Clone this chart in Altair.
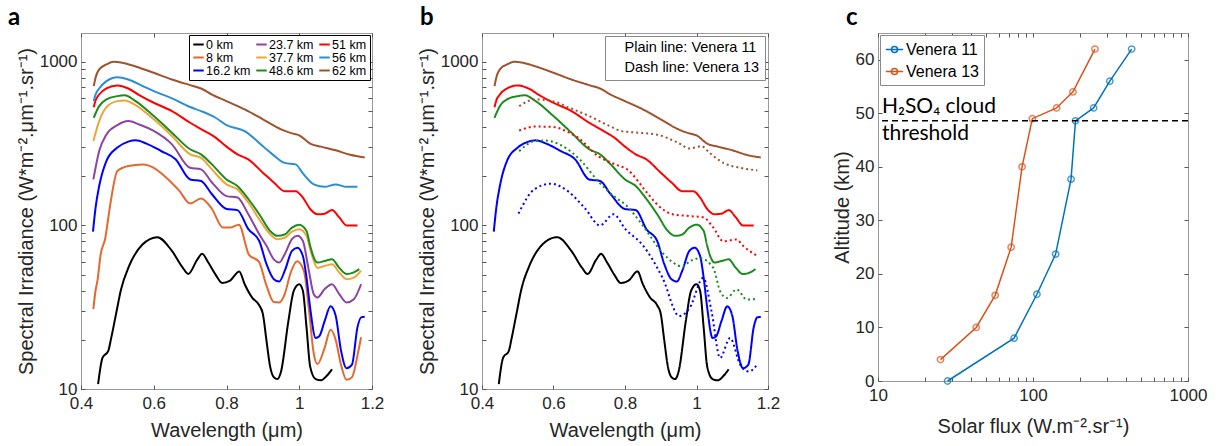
import altair as alt
import pandas as pd

# ---------------- categories / styles ----------------
ALT_LABELS = ["0 km", "8 km", "16.2 km", "23.7 km", "37.7 km", "48.6 km", "51 km", "56 km", "62 km"]
ALT_COLORS = ["#000000", "#E2692F", "#0000FF", "#8B44A0", "#EDA53A", "#1E8B1E", "#FF0000", "#2B8ED4", "#A0522D"]
MISSIONS_B = ["Plain line: Venera 11", "Dash line: Venera 13"]
MISSIONS_C = ["Venera 11", "Venera 13"]

# ---------------- panel a/b : Venera 11 spectra ----------------
wl_0 = [0.447, 0.459, 0.475, 0.482, 0.496, 0.51, 0.532, 0.569, 0.61, 0.65, 0.68, 0.695, 0.72, 0.733, 0.75,
        0.77, 0.788, 0.81, 0.835, 0.85, 0.87, 0.89, 0.90, 0.91, 0.92, 0.93, 0.94, 0.95, 0.97, 0.985, 1.00,
        1.01, 1.02, 1.03, 1.045, 1.06, 1.075, 1.09]
irr_0 = [10.7, 15.5, 17.1, 20, 28.5, 40.6, 56.3, 76.4, 84.7, 69.8, 55, 50.5, 62, 67, 59.3,
         50, 44.5, 46, 52.3, 43.7, 36.3, 32.5, 28.8, 19.7, 13.7, 11.8, 11.5, 12.8, 25.9, 39.9, 43.7,
         39.9, 23.8, 13.7, 11.5, 11.3, 12, 13.2]

wl_8 = [0.434, 0.44, 0.445, 0.454, 0.467, 0.475, 0.482, 0.50, 0.53, 0.57, 0.60, 0.63, 0.67, 0.70, 0.73,
        0.76, 0.79, 0.81, 0.834, 0.862, 0.889, 0.91, 0.93, 0.945, 0.96, 0.976, 0.994, 1.013, 1.027, 1.04,
        1.05, 1.07, 1.086, 1.10, 1.115, 1.13, 1.145, 1.16, 1.17]
irr_8 = [30.8, 40, 45.6, 66.4, 84, 111, 141, 215, 231, 236, 225, 200, 163, 136, 146,
         126, 97, 97, 101, 66, 60, 42.8, 34, 33.8, 38, 51, 60.3, 52.5, 29.9, 16.4,
         14.2, 17.9, 23, 20, 14, 11.4, 11.8, 16, 20.7]

wl_16 = [0.433, 0.44, 0.45, 0.47, 0.50, 0.53, 0.55, 0.58, 0.62, 0.66, 0.70, 0.73, 0.76, 0.80, 0.83,
         0.86, 0.89, 0.91, 0.93, 0.945, 0.96, 0.98, 0.995, 1.01, 1.02, 1.03, 1.045, 1.055, 1.07, 1.086,
         1.10, 1.115, 1.13, 1.145, 1.16, 1.17, 1.18]
irr_16 = [91.7, 128, 174, 248, 299, 325, 331, 316, 285, 254, 191, 187, 155, 126, 124,
          94.8, 80.3, 57.9, 46.9, 45.4, 52.7, 69.8, 73, 65, 48, 31.3, 20.5, 21, 26.1, 32,
          28.1, 17.1, 13.4, 14.1, 23.8, 27.4, 27.6]

wl_23 = [0.434, 0.45, 0.47, 0.50, 0.53, 0.56, 0.60, 0.65, 0.70, 0.73, 0.76, 0.80, 0.83, 0.86, 0.89,
         0.91, 0.93, 0.945, 0.96, 0.98, 0.995, 1.01, 1.025, 1.04, 1.05, 1.07, 1.09, 1.11, 1.13, 1.15, 1.17]
irr_23 = [191, 285, 360, 410, 434, 414, 378, 313, 225, 220, 183, 151, 148, 117, 88.3,
          75, 62, 59.3, 66.7, 82.4, 86.3, 80.3, 55, 38, 36.3, 40.8, 43.7, 38, 33.8, 35.4, 43.7]

wl_37 = [0.434, 0.45, 0.47, 0.50, 0.52, 0.55, 0.60, 0.65, 0.70, 0.73, 0.76, 0.80, 0.83, 0.86, 0.89,
         0.92, 0.94, 0.96, 0.98, 1.00, 1.02, 1.03, 1.04, 1.05, 1.07, 1.09, 1.11, 1.13, 1.15, 1.17]
irr_37 = [328, 434, 528, 575, 581, 544, 445, 352, 272, 259, 220, 178, 166, 138, 109,
          88.3, 82.4, 84, 91.6, 94.8, 86.3, 71.6, 60.6, 55, 56.5, 57.8, 51.6, 46.9, 48, 53]

wl_48 = [0.435, 0.45, 0.47, 0.50, 0.52, 0.55, 0.60, 0.65, 0.70, 0.73, 0.76, 0.80, 0.83, 0.86, 0.89,
         0.92, 0.94, 0.96, 0.98, 1.00, 1.02, 1.03, 1.04, 1.05, 1.07, 1.09, 1.11, 1.13, 1.15, 1.165]
irr_48 = [455, 536, 589, 617, 624, 575, 466, 369, 292, 272, 236, 191, 174, 145, 117,
          92.5, 86.3, 88, 97, 101, 92.5, 75, 63.6, 59.3, 60.6, 62, 55, 50.4, 51.6, 54]

wl_51 = [0.435, 0.44, 0.45, 0.47, 0.50, 0.53, 0.56, 0.60, 0.65, 0.70, 0.74, 0.77, 0.80, 0.83, 0.86,
         0.90, 0.93, 0.96, 0.99, 1.01, 1.03, 1.05, 1.07, 1.09, 1.11, 1.13, 1.16]
irr_51 = [528, 580, 631, 687, 717, 687, 626, 562, 500, 424, 377, 344, 303, 272, 253,
          210, 183, 162, 162, 148, 126, 117, 118, 124, 112, 100, 100]

wl_56 = [0.435, 0.44, 0.45, 0.47, 0.50, 0.53, 0.57, 0.60, 0.65, 0.70, 0.73, 0.77, 0.80, 0.85, 0.90,
         0.93, 0.96, 0.99, 1.01, 1.04, 1.07, 1.10, 1.13, 1.16]
irr_56 = [575, 630, 687, 762, 806, 780, 710, 662, 598, 529, 500, 455, 410, 377, 305,
          268, 241, 236, 208, 178, 172, 178, 172, 172]

wl_62 = [0.435, 0.44, 0.45, 0.47, 0.49, 0.51, 0.55, 0.60, 0.65, 0.70, 0.73, 0.76, 0.80, 0.85, 0.90,
         0.95, 0.98, 1.00, 1.03, 1.06, 1.10, 1.14, 1.18]
irr_62 = [710, 800, 898, 963, 1000, 991, 937, 857, 780, 720, 687, 630, 575, 512, 445,
          386, 365, 355, 316, 303, 288, 270, 260]

# ---------------- panel b : Venera 13 spectra (dotted) ----------------
wl_v13_16 = [0.502, 0.546, 0.593, 0.64, 0.687, 0.73, 0.768, 0.801, 0.848, 0.905, 0.952, 0.981, 1.019,
             1.042, 1.066, 1.094, 1.122, 1.146, 1.17]
irr_v13_16 = [118, 166, 180, 162, 128, 100, 117, 95, 76.4, 47.8, 27.9, 31.3, 47.8,
              29.9, 15.5, 20.5, 14.1, 12.8, 14.1]

wl_v13_48 = [0.504, 0.549, 0.578, 0.621, 0.678, 0.725, 0.772, 0.801, 0.848, 0.905, 0.962, 0.981, 1.009,
             1.047, 1.066, 1.085, 1.112, 1.141, 1.17]
irr_v13_48 = [284, 328, 330, 309, 247, 186, 149, 134, 101, 68, 56, 60.3, 63,
              55, 39.6, 36, 40.6, 35.2, 35.7]

wl_v13_51 = [0.504, 0.549, 0.597, 0.644, 0.669, 0.725, 0.772, 0.806, 0.86, 0.886, 0.933, 0.981, 1.019,
             1.047, 1.075, 1.112, 1.13, 1.17]
irr_v13_51 = [380, 402, 400, 369, 343, 265, 236, 220, 160, 137, 117, 114, 112,
              97, 80, 82, 75, 65]

wl_v13_62 = [0.504, 0.549, 0.597, 0.644, 0.70, 0.757, 0.791, 0.814, 0.886, 0.947, 0.981, 1.014, 1.037,
             1.075, 1.122, 1.17]
irr_v13_62 = [536, 589, 575, 524, 466, 405, 377, 372, 360, 321, 295, 305, 277,
              241, 225, 217]

# ---------------- panel c : solar flux vs altitude ----------------
alt_v11 = [0, 8, 16.2, 23.7, 37.7, 48.6, 51, 56, 62]
flux_v11 = [28.1, 75.5, 106, 140, 176, 188, 246, 313, 433]
alt_v13 = [4, 10, 16, 25, 40, 49, 51, 54, 62]
flux_v13 = [25.3, 43, 57, 72.3, 85, 99, 142, 181, 251]
CLOUD_ALT = [48.6]
CLOUD_TEXT = ["H\u2082SO\u2084 cloud", "threshold"]
CLOUD_TEXT_X = [10.6, 10.6]
CLOUD_TEXT_Y = [51.2, 46.2]

# ---------------- tick values ----------------
SPEC_X_TICKS = [0.4, 0.6, 0.8, 1.0, 1.2]
SPEC_Y_TICKS = [10, 20, 30, 40, 50, 60, 70, 80, 90, 100, 200, 300, 400, 500, 600, 700, 800, 900, 1000]
FLUX_X_TICKS = [10, 20, 30, 40, 50, 60, 70, 80, 90, 100, 200, 300, 400, 500, 600, 700, 800, 900, 1000]
ALT_Y_TICKS = [0, 10, 20, 30, 40, 50, 60]

# ---------------- build tables ----------------
spectra_v11 = {
    "0 km": (wl_0, irr_0), "8 km": (wl_8, irr_8), "16.2 km": (wl_16, irr_16),
    "23.7 km": (wl_23, irr_23), "37.7 km": (wl_37, irr_37), "48.6 km": (wl_48, irr_48),
    "51 km": (wl_51, irr_51), "56 km": (wl_56, irr_56), "62 km": (wl_62, irr_62),
}
spectra_v13 = {
    "16.2 km": (wl_v13_16, irr_v13_16), "48.6 km": (wl_v13_48, irr_v13_48),
    "51 km": (wl_v13_51, irr_v13_51), "62 km": (wl_v13_62, irr_v13_62),
}

rows_a = []
for lab in ALT_LABELS:
    w, v = spectra_v11[lab]
    for i, (a, b) in enumerate(zip(w, v)):
        rows_a.append({"alt": lab, "wl": a, "irr": b, "i": i})
df_a = pd.DataFrame(rows_a)

rows_b = []
for lab in ["0 km", "16.2 km", "48.6 km", "51 km", "62 km"]:
    w, v = spectra_v11[lab]
    for i, (a, b) in enumerate(zip(w, v)):
        rows_b.append({"altb": lab, "wl": a, "irr": b, "i": i, "mission": MISSIONS_B[0]})
for lab, (w, v) in spectra_v13.items():
    for i, (a, b) in enumerate(zip(w, v)):
        rows_b.append({"altb": lab, "wl": a, "irr": b, "i": i, "mission": MISSIONS_B[1]})
df_b = pd.DataFrame(rows_b)

rows_c = []
for i, (f, h) in enumerate(zip(flux_v11, alt_v11)):
    rows_c.append({"flux": f, "altitude": h, "probe": MISSIONS_C[0], "i": i})
for i, (f, h) in enumerate(zip(flux_v13, alt_v13)):
    rows_c.append({"flux": f, "altitude": h, "probe": MISSIONS_C[1], "i": i})
df_c = pd.DataFrame(rows_c)
df_cloud = pd.DataFrame({"altitude": CLOUD_ALT})
df_txt = pd.DataFrame({"flux": CLOUD_TEXT_X, "altitude": CLOUD_TEXT_Y, "t": CLOUD_TEXT})

color_map = dict(zip(ALT_LABELS, ALT_COLORS))

FONT = "Liberation Sans"
TXT = "#262626"
LOG_LABELS = "datum.value == 10 || datum.value == 100 || datum.value == 1000 ? '' + datum.value : ''"
Y_TITLE = "Spectral Irradiance (W*m\u207b\u00b2.\u03bcm\u207b\u00b9.sr\u207b\u00b9)"


def spec_scales():
    return (alt.Scale(domain=[0.4, 1.2], nice=False, zero=False),
            alt.Scale(type="log", domain=[10, 1500], nice=False))


def main_x(field, scale, values, title, fmt=None, expr=None, title_pad=9):
    kw = dict(values=values, title=title, offset=-4, tickSize=4, domain=False, grid=False,
              labelFlush=False, labelPadding=6, titlePadding=title_pad, labelOverlap=False)
    if fmt:
        kw["format"] = fmt
    if expr:
        kw["labelExpr"] = expr
    return alt.X(field, scale=scale, axis=alt.Axis(**kw))


def main_y(field, scale, values, title, expr=None):
    kw = dict(values=values, title=title, offset=-4, tickSize=4, domain=False, grid=False,
              labelPadding=4, titlePadding=3, labelOverlap=False)
    if expr:
        kw["labelExpr"] = expr
    return alt.Y(field, scale=scale, axis=alt.Axis(**kw))


def box_ticks(data, xf, yf, xs, ys, xv, yv):
    return alt.Chart(data).mark_point(opacity=0).encode(
        x=alt.X(xf, scale=xs, axis=alt.Axis(orient="top", values=xv, labels=False, title=None,
                                             offset=-4, tickSize=4, domain=False, grid=False)),
        y=alt.Y(yf, scale=ys, axis=alt.Axis(orient="right", values=yv, labels=False, title=None,
                                             offset=-4, tickSize=4, domain=False, grid=False)),
    )


def panel_title(t, dx):
    return alt.TitleParams(text=t, anchor="start", frame="group", dx=dx, font="Lato", fontSize=24,
                           fontWeight="bold", color="black", offset=3)


# ---------------- panel a ----------------
xs, ys = spec_scales()
lines_a = alt.Chart(df_a).mark_line(strokeWidth=2, interpolate="monotone", clip=True).encode(
    x=main_x("wl:Q", xs, SPEC_X_TICKS, "Wavelength (\u03bcm)", fmt="~g"),
    y=main_y("irr:Q", ys, SPEC_Y_TICKS, Y_TITLE, expr=LOG_LABELS),
    color=alt.Color("alt:N", scale=alt.Scale(domain=ALT_LABELS, range=ALT_COLORS),
                    legend=alt.Legend(
                        title=None, orient="top-right", offset=2, columns=3, symbolType="stroke",
                        symbolStrokeWidth=2, symbolSize=110, labelFont=FONT, labelFontSize=12.5,
                        labelColor="black", fillColor="white", strokeColor="black", padding=3,
                        rowPadding=0, columnPadding=1, labelOffset=1)),
    order="i:Q",
)
xs2, ys2 = spec_scales()
panel_a = alt.layer(lines_a, box_ticks(df_a, "wl:Q", "irr:Q", xs2, ys2, SPEC_X_TICKS, SPEC_Y_TICKS)).resolve_scale(
    x="independent", y="independent").resolve_axis(x="independent", y="independent").properties(
    width=291, height=356, title=panel_title("a", -73))

# ---------------- panel b ----------------
B_ORDER = ["0 km", "16.2 km", "48.6 km", "51 km", "62 km"]
xs, ys = spec_scales()
lines_b = alt.Chart(df_b).mark_line(strokeWidth=2, interpolate="monotone", clip=True).encode(
    x=main_x("wl:Q", xs, SPEC_X_TICKS, "Wavelength (\u03bcm)", fmt="~g"),
    y=main_y("irr:Q", ys, SPEC_Y_TICKS, Y_TITLE, expr=LOG_LABELS),
    color=alt.Color("altb:N", scale=alt.Scale(domain=B_ORDER, range=[color_map[k] for k in B_ORDER]),
                    legend=None),
    strokeDash=alt.StrokeDash("mission:N", scale=alt.Scale(domain=MISSIONS_B, range=[[1, 0], [2, 3]]),
                              legend=alt.Legend(title=None, orient="top-right", offset=3, symbolSize=0,
                                                symbolOpacity=0, symbolStrokeWidth=0, labelFont=FONT,
                                                labelFontSize=14.5, labelColor="black", fillColor="white",
                                                strokeColor="#8a8a8a", padding=5, rowPadding=5,
                                                labelOffset=0)),
    order="i:Q",
)
xs2, ys2 = spec_scales()
panel_b = alt.layer(lines_b, box_ticks(df_b, "wl:Q", "irr:Q", xs2, ys2, SPEC_X_TICKS, SPEC_Y_TICKS)).resolve_scale(
    x="independent", y="independent").resolve_axis(x="independent", y="independent").properties(
    width=286, height=356, title=panel_title("b", -62))

# ---------------- panel c ----------------
def c_scales():
    return (alt.Scale(type="log", domain=[10, 1000], nice=False),
            alt.Scale(domain=[0, 65], nice=False, zero=False))


mission_scale = alt.Scale(domain=MISSIONS_C, range=["#0072BD", "#D95319"])
xs, ys = c_scales()
lines_c = alt.Chart(df_c).mark_line(strokeWidth=1.5).encode(
    x=main_x("flux:Q", xs, FLUX_X_TICKS, "Solar flux (W.m\u207b\u00b2.sr\u207b\u00b9)", expr=LOG_LABELS,
             title_pad=13),
    y=main_y("altitude:Q", ys, ALT_Y_TICKS, "Altitude (km)"),
    color=alt.Color("probe:N", scale=mission_scale, legend=alt.Legend(
        title=None, orient="top-left", offset=2,
        symbolType="M-1,0L1,0M-0.35,0A0.35,0.35,0,1,1,0.35,0A0.35,0.35,0,1,1,-0.35,0",
        symbolSize=300, symbolStrokeWidth=1.5, symbolFillColor="transparent", labelFont=FONT,
        labelFontSize=16, labelColor="black", fillColor="white", strokeColor="#8a8a8a",
        padding=5, rowPadding=4, labelOffset=2)),
    order="i:Q",
)
points_c = alt.Chart(df_c).mark_point(filled=False, size=40, strokeWidth=1.5).encode(
    x=alt.X("flux:Q", scale=xs), y=alt.Y("altitude:Q", scale=ys),
    color=alt.Color("probe:N", scale=mission_scale, legend=None),
)
rule_c = alt.Chart(df_cloud).mark_rule(color="black", strokeWidth=1.5, strokeDash=[6, 4]).encode(
    y=alt.Y("altitude:Q", scale=ys))
text_c = alt.Chart(df_txt).mark_text(align="left", baseline="middle", font="Lato", fontSize=21,
                                     color="black").encode(
    x=alt.X("flux:Q", scale=xs), y=alt.Y("altitude:Q", scale=ys), text="t:N")
xs2, ys2 = c_scales()
main_c = alt.layer(lines_c, points_c, rule_c, text_c)
panel_c = alt.layer(main_c, box_ticks(df_c, "flux:Q", "altitude:Q", xs2, ys2, FLUX_X_TICKS, ALT_Y_TICKS)).resolve_scale(
    x="independent", y="independent").resolve_axis(x="independent", y="independent").properties(
    width=310, height=348, title=panel_title("c", -32))

chart = alt.hconcat(panel_a, panel_b, panel_c, spacing=110, bounds="flush").resolve_scale(
    color="independent", strokeDash="independent").resolve_legend(
    color="independent", strokeDash="independent").properties(
    padding={"left": 7, "top": 5, "right": 5, "bottom": 0}, background="white"
).configure_view(stroke="#9a9a9a", strokeWidth=1).configure_axis(
    labelFont=FONT, labelFontSize=17, labelColor=TXT, titleFont=FONT, titleFontSize=20,
    titleFontWeight="normal", titleColor=TXT, tickColor="#555555", tickWidth=1
)

chart.save("out.html", embed_options={"renderer": "svg", "actions": False})
